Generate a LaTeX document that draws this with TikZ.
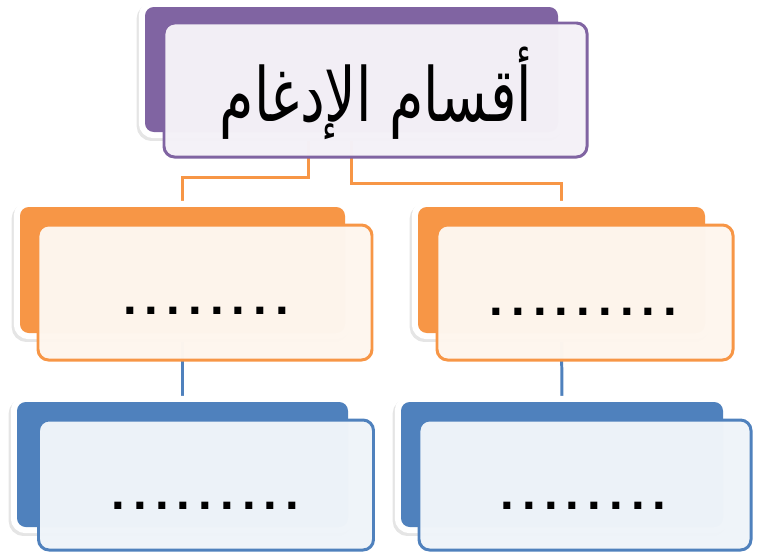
\documentclass[tikz,border=0pt]{standalone}
\usepackage{fontspec}
\usepackage{graphicx}
\usetikzlibrary{calc,shadows,backgrounds}
\TeXXeTstate=1
\newfontfamily\arabicfont[Script=Arabic]{DejaVu Sans}
\newfontfamily\dotfont{Liberation Sans}
\definecolor{purp}{HTML}{8064A2}
\definecolor{orng}{HTML}{F79646}
\definecolor{blu}{HTML}{4F81BD}
\newcommand\px{0.02cm}
\newcommand\gp{\kern4.6pt}

\begin{document}
\begin{tikzpicture}[x=0.02cm,y=-0.02cm,
    backbox/.style={rounded corners=5pt, fill=#1, inner sep=0pt,
        general shadow={draw=black!10, line width=7pt, shadow xshift=-1.2pt, shadow yshift=-1.6pt},
        preaction={draw=white, line width=7pt}},
    frontbox/.style={rounded corners=6pt, fill=#1!9, fill opacity=0.985, draw=#1, line width=1.7pt, inner sep=0pt},
    link/.style={draw=#1, line width=1.7pt},
    dots/.style={font=\dotfont\bfseries\fontsize{28}{30}\selectfont, inner sep=0pt}]
    \useasboundingbox (0,0) rectangle (757,552);
    % top box
    \node[backbox=purp, minimum width=413*\px, minimum height=125*\px] (topback) at (351.5,69.5) {};
    \node[frontbox=purp, minimum width=423*\px, minimum height=134*\px] (topfront) at (375.5,90) {};
    \node[font=\arabicfont\fontsize{34}{40}\selectfont] (title) at (376,93) {\scalebox{0.93}[1.25]{\beginR أقسام الإدغام\endR}};
    % orange row
    \node[backbox=orng, minimum width=325*\px, minimum height=126*\px] (ol) at (182.5,270) {};
    \node[frontbox=orng, minimum width=334*\px, minimum height=135*\px] (olf) at (205,292.5) {};
    \node[backbox=orng, minimum width=287*\px, minimum height=126*\px] (or) at (561.5,270) {};
    \node[frontbox=orng, minimum width=296*\px, minimum height=135*\px] (orf) at (585,292.5) {};
    \node[dots] (d1) at (206,311) {.\gp.\gp.\gp.\gp.\gp.\gp.\gp.};
    \node[dots] (d2) at (583.5,312) {.\gp.\gp.\gp.\gp.\gp.\gp.\gp.\gp.};
    % blue row
    \node[backbox=blu, minimum width=331*\px, minimum height=125*\px] (bl) at (182.5,464.5) {};
    \node[frontbox=blu, minimum width=335*\px, minimum height=130*\px] (blf) at (206,485) {};
    \node[backbox=blu, minimum width=322*\px, minimum height=125*\px] (br) at (562,464.5) {};
    \node[frontbox=blu, minimum width=332*\px, minimum height=130*\px] (brf) at (585,485) {};
    \node[dots] (d3) at (205.5,506) {.\gp.\gp.\gp.\gp.\gp.\gp.\gp.\gp.};
    \node[dots] (d4) at (583.5,506) {.\gp.\gp.\gp.\gp.\gp.\gp.\gp.};
    % connectors
    \begin{scope}[on background layer]
        \draw[link=orng] ($(topback.south)+(-43,0)$) -- ++(0,45) -| (ol.north);
        \draw[link=orng] (topback.south) -- ++(0,51) -| (or.north);
        \draw[link=blu] (ol.south) -- (bl.north);
        \draw[link=blu] (or.south) -- (br.north);
    \end{scope}
\end{tikzpicture}
\end{document}
